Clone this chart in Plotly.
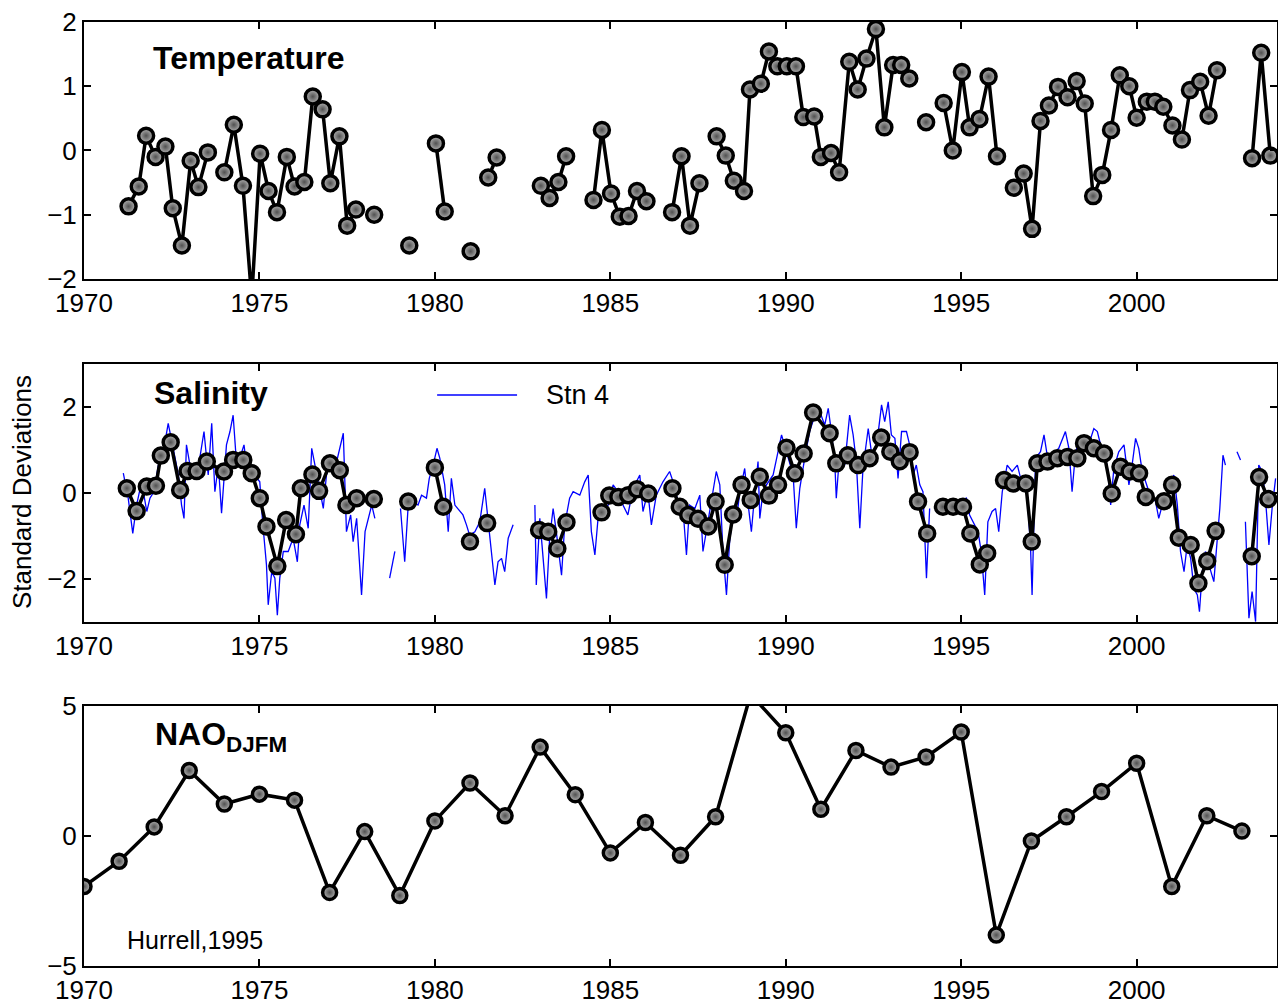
import plotly.graph_objects as go
from plotly.subplots import make_subplots

# Temperature anomalies (std devs), None marks gaps between segments
temp_year = [1971.27, 1971.56, 1971.77, 1972.04, 1972.32, 1972.53, 1972.79, 1973.04, 1973.26, 1973.53, None,
             1974.00, 1974.27, 1974.53, 1974.78, 1975.02, 1975.26, 1975.50, 1975.78, 1976.00, 1976.28,
             1976.52, 1976.80, 1977.02, 1977.28, 1977.50, 1977.75, None,
             1978.27, None, 1979.27, None, 1980.03, 1980.28, None, 1981.02, None, 1981.52, 1981.76, None,
             1983.02, 1983.27, 1983.52, 1983.74, None,
             1984.52, 1984.76, 1985.02, 1985.27, 1985.52, 1985.76, 1986.03, None,
             1986.76, 1987.03, 1987.27, 1987.54, None,
             1988.03, 1988.29, 1988.52, 1988.81, 1988.98, 1989.29, 1989.52, 1989.76, 1990.03, 1990.29,
             1990.50, 1990.81, 1991.00, 1991.29, 1991.52, 1991.81, 1992.05, 1992.30, 1992.57, 1992.81,
             1993.06, 1993.29, 1993.52, None, 1994.00, None,
             1994.50, 1994.76, 1995.02, 1995.24, 1995.52, 1995.78, 1996.02, None,
             1996.50, 1996.78, 1997.02, 1997.26, 1997.50, 1997.76, 1998.03, 1998.29, 1998.52, 1998.76,
             1999.02, 1999.27, 1999.52, 1999.79, 2000.00, 2000.29, 2000.52, 2000.76, 2001.02, 2001.29,
             2001.52, 2001.81, 2002.05, 2002.29, None,
             2003.29, 2003.55, 2003.81]
temp_val = [-0.87, -0.56, 0.23, -0.10, 0.06, -0.90, -1.48, -0.16, -0.57, -0.03, None,
            -0.34, 0.40, -0.55, -2.30, -0.05, -0.63, -0.96, -0.10, -0.56, -0.49,
            0.84, 0.64, -0.51, 0.22, -1.17, -0.92, None,
            -1.00, None, -1.48, None, 0.11, -0.95, None, -1.57, None, -0.42, -0.11, None,
            -0.55, -0.74, -0.49, -0.09, None,
            -0.77, 0.32, -0.67, -1.03, -1.02, -0.63, -0.79, None,
            -0.96, -0.09, -1.17, -0.51, None,
            0.22, -0.08, -0.47, -0.63, 0.95, 1.04, 1.54, 1.31, 1.31, 1.31,
            0.52, 0.53, -0.10, -0.04, -0.34, 1.38, 0.95, 1.43, 1.89, 0.36,
            1.33, 1.33, 1.12, None, 0.44, None,
            0.74, 0.00, 1.22, 0.36, 0.49, 1.15, -0.09, None,
            -0.58, -0.36, -1.22, 0.46, 0.70, 0.99, 0.83, 1.08, 0.73, -0.71,
            -0.38, 0.32, 1.17, 1.00, 0.51, 0.76, 0.76, 0.68, 0.39, 0.17,
            0.94, 1.07, 0.54, 1.25, None,
            -0.12, 1.52, -0.08]

# Salinity, averaged series (black markers)
sal_year = [1971.22, 1971.50, 1971.79, 1972.05, 1972.19, 1972.47, 1972.74, 1972.95, 1973.21, 1973.50,
            1973.99, 1974.25, 1974.54, 1974.78, 1975.01, 1975.20, 1975.51, 1975.76, 1976.04, 1976.18,
            1976.51, 1976.70, 1977.01, 1977.29, 1977.48, 1977.77, None, 1978.26, None, 1979.24, None,
            1980.00, 1980.24, None, 1981.00, None, 1981.49, None,
            1982.97, 1983.23, 1983.49, 1983.75, None,
            1984.75, 1984.97, 1985.23, 1985.51, 1985.76, 1986.08, None,
            1986.77, 1986.98, 1987.22, 1987.50, 1987.79, 1988.00, 1988.26, 1988.50, 1988.74, 1989.00,
            1989.26, 1989.52, 1989.78, 1990.02, 1990.26, 1990.51, 1990.78, 1991.25, 1991.44, 1991.77,
            1992.06, 1992.39, 1992.72, 1992.98, 1993.25, 1993.53, 1993.77, 1994.03, None,
            1994.48, 1994.77, 1995.05, 1995.26, 1995.53, 1995.74, None,
            1996.22, 1996.48, 1996.84, 1997.01, 1997.17, 1997.46, 1997.74, 1998.03, 1998.31, 1998.50,
            1998.78, 1999.07, 1999.29, 1999.54, 1999.80, 2000.07, 2000.26, 2000.78, 2001.01, 2001.20,
            2001.54, 2001.76, 2002.01, 2002.25, None,
            2003.28, 2003.49, 2003.75]
sal_val = [0.11, -0.42, 0.15, 0.17, 0.87, 1.18, 0.07, 0.51, 0.51, 0.73,
           0.50, 0.77, 0.77, 0.46, -0.12, -0.78, -1.70, -0.63, -0.96, 0.11,
           0.43, 0.05, 0.69, 0.53, -0.28, -0.12, None, -0.14, None, -0.20, None,
           0.59, -0.32, None, -1.13, None, -0.70, None,
           -0.86, -0.90, -1.29, -0.68, None,
           -0.45, -0.06, -0.09, -0.05, 0.09, -0.01, None,
           0.11, -0.32, -0.51, -0.60, -0.78, -0.20, -1.67, -0.50, 0.19, -0.16,
           0.38, -0.06, 0.19, 1.05, 0.46, 0.92, 1.87, 1.39, 0.69, 0.88,
           0.65, 0.81, 1.29, 0.96, 0.74, 0.95, -0.20, -0.94, None,
           -0.32, -0.32, -0.32, -0.94, -1.66, -1.40, None,
           0.30, 0.22, 0.22, -1.13, 0.69, 0.73, 0.81, 0.84, 0.81, 1.16,
           1.04, 0.92, -0.01, 0.61, 0.50, 0.46, -0.09, -0.19, 0.19, -1.04,
           -1.21, -2.10, -1.58, -0.88, None,
           -1.47, 0.37, -0.14]

# Salinity at Stn 4 (blue line)
stn4_year = [1971.12, 1971.26, 1971.39, 1971.50, 1971.64, 1971.79, 1971.88, 1971.99, 1972.12, 1972.26,
             1972.40, 1972.55, 1972.69, 1972.78, 1972.85, 1972.92, 1973.02, 1973.16, 1973.30, 1973.42,
             1973.54, 1973.64, 1973.73, 1973.83, 1973.92, 1974.06, 1974.16, 1974.25, 1974.35, 1974.44,
             1974.56, 1974.63, 1974.78, 1974.87, 1975.01, 1975.09, 1975.20, 1975.25, 1975.35, 1975.44,
             1975.51, 1975.58, 1975.68, 1975.82, 1975.96, 1976.08, 1976.15, 1976.27, 1976.39, 1976.49,
             1976.58, 1976.68, 1976.82, 1976.91, 1977.06, 1977.20, 1977.39, 1977.48, 1977.60, 1977.67,
             1977.77, 1977.91, 1978.01, 1978.20, 1978.29, None,
             1978.71, 1978.86, None,
             1979.02, 1979.14, 1979.24, 1979.38, 1979.52, 1979.62, 1979.76, 1979.84, 1979.95, 1980.06,
             1980.14, 1980.28, 1980.38, 1980.47, 1980.57, 1980.71, 1980.80, 1980.90, 1980.99, 1981.14,
             1981.28, 1981.42, 1981.52, 1981.61, 1981.71, 1981.80, 1981.90, 1981.99, 1982.09, 1982.23, None,
             1982.85, 1982.89, 1982.99, 1983.08, 1983.18, 1983.27, 1983.37, 1983.46, 1983.61, 1983.70,
             1983.84, 1983.94, 1984.13, 1984.27, 1984.37, 1984.46, 1984.56, 1984.65, 1984.79, 1984.94,
             1985.08, 1985.22, 1985.36, 1985.50, 1985.65, 1985.84, 1985.93, 1986.07, 1986.17, 1986.31,
             1986.50, 1986.69, 1986.79, 1986.93, 1987.07, 1987.17, 1987.26, 1987.41, 1987.55, 1987.64,
             1987.79, 1987.93, 1988.02, 1988.12, 1988.21, 1988.31, 1988.40, 1988.50, 1988.59, 1988.69,
             1988.83, 1988.93, 1989.02, 1989.12, 1989.21, 1989.26, 1989.35, 1989.45, 1989.64, 1989.78,
             1989.88, 1990.02, 1990.21, 1990.30, 1990.40, 1990.54, 1990.68, 1990.83, 1990.97, 1991.11,
             1991.21, 1991.30, 1991.40, 1991.44, 1991.54, 1991.68, 1991.82, 1991.92, 1992.01, 1992.11,
             1992.20, 1992.35, 1992.44, 1992.58, 1992.73, 1992.82, 1992.92, 1993.01, 1993.11, 1993.20,
             1993.30, 1993.44, 1993.53, 1993.63, 1993.72, 1993.82, 1993.91, 1994.01, 1994.10, None,
             1994.29, 1994.39, 1994.58, 1994.86, 1995.15, 1995.24, 1995.34, 1995.48, 1995.57, 1995.67,
             1995.76, 1995.88, 1995.98, 1996.07, 1996.17, 1996.31, 1996.45, 1996.60, 1996.74, 1996.88,
             1996.98, 1997.02, 1997.12, 1997.26, 1997.36, 1997.45, 1997.59, 1997.78, 1997.97, 1998.07,
             1998.16, 1998.26, 1998.40, 1998.54, 1998.69, 1998.78, 1998.88, 1999.02, 1999.16, 1999.26,
             1999.35, 1999.49, 1999.64, 1999.78, 1999.87, 1999.97, 2000.06, 2000.16, 2000.35, 2000.54,
             2000.63, 2000.73, 2000.92, 2001.06, 2001.16, 2001.25, 2001.35, 2001.44, 2001.54, 2001.63,
             2001.73, 2001.79, 2001.87, 2001.96, 2002.06, 2002.20, 2002.30, 2002.37, 2002.46, 2002.53, None,
             2002.86, 2002.96, None,
             2003.10, 2003.20, 2003.29, 2003.39, 2003.48, 2003.58, 2003.67, 2003.77, 2003.86, 2003.96]
stn4_val = [0.46, -0.12, -0.94, -0.28, 0.26, -0.43, -0.12, 0.03, 0.65, 0.96,
            1.62, 1.04, 0.42, -0.28, -0.59, 1.12, 0.65, 0.42, 0.81, 1.43,
            0.42, 1.62, 0.03, 0.65, -0.47, 1.12, 1.43, 1.81, 0.65, 0.81,
            1.12, 0.65, 0.50, 0.42, 0.26, -0.67, -1.67, -2.60, -1.83, -1.98,
            -2.84, -1.98, -1.36, -1.36, -1.05, -1.60, -0.74, -0.28, -0.82, 1.04,
            0.65, 0.19, -0.36, 0.42, 0.81, 0.73, 1.39, -0.90, -0.51, -1.13,
            -0.59, -2.37, -0.90, -0.28, -0.59, None,
            -1.98, -1.36, None,
            -0.36, -1.60, -0.28, -0.20, -0.28, -0.05, -0.12, 0.34, 0.65, 1.04,
            0.81, 0.19, -0.90, 0.34, -0.28, -0.43, -0.51, -0.74, -0.98, -0.90,
            -0.67, 0.11, -0.59, -1.36, -2.14, -1.60, -1.52, -1.83, -1.05, -0.74, None,
            -0.28, -2.14, -0.59, -1.52, -2.45, -1.05, -0.36, -0.90, -1.91, -0.74,
            -0.12, 0.03, -0.05, 0.26, 0.42, -0.90, -1.44, -0.59, -0.36, -0.28,
            0.19, 0.03, -0.28, -0.51, 0.11, 0.42, -0.43, 0.03, -0.74, -0.05,
            0.26, 0.50, 0.26, -0.20, -0.36, -1.44, -0.28, -0.36, -0.05, -1.36,
            -0.59, 0.03, 0.50, 0.19, -1.36, -2.37, -1.13, -0.43, -0.67, 0.03,
            0.57, -0.28, -0.90, 0.03, 0.73, -0.59, 0.03, 0.19, 0.42, 0.96,
            1.35, 0.96, 0.42, -0.82, 0.11, 0.81, 1.43, 1.81, 1.89, 1.58,
            1.97, 1.43, 0.65, -0.12, 0.96, 0.65, 1.81, 1.35, 0.73, -0.82,
            0.57, 1.50, 0.96, 1.04, 2.05, 1.66, 2.12, 1.35, 1.27, 0.34,
            1.43, 1.43, 1.12, 0.42, 0.65, 0.19, 0.03, -1.98, -0.36, None,
            -0.43, -0.28, -0.28, -0.20, -0.12, -0.51, -0.67, -0.90, -1.36, -2.37,
            -0.67, -0.43, -0.36, -0.90, 0.03, 0.65, 0.50, 0.65, 0.19, 0.03,
            -1.36, -2.37, 0.81, 0.96, 1.35, 0.88, 0.88, 1.04, 1.43, 1.04,
            0.03, 0.96, 1.27, 1.04, 1.27, 1.50, 1.43, 0.96, 0.65, -0.28,
            0.57, 0.96, 1.12, 0.19, 0.65, 1.27, 1.04, 0.50, 0.03, -0.20,
            -0.59, -0.28, 0.03, 0.42, -0.28, -1.36, -1.83, -1.21, -1.52, -2.22,
            -2.37, -2.76, -1.83, -1.36, -1.67, -2.06, -1.05, -0.36, 0.88, 0.65, None,
            0.96, 0.77, None,
            -0.67, -2.91, -2.29, -2.99, 0.65, 0.50, -0.12, -1.21, -0.36, 0.34]

# NAO winter (DJFM) index, Hurrell
nao_year = list(range(1970, 2004))
nao_val = [-1.94, -0.97, 0.35, 2.52, 1.23, 1.61, 1.38, -2.17, 0.17, -2.29,
           0.58, 2.04, 0.78, 3.42, 1.59, -0.65, 0.52, -0.74, 0.74, 5.45,
           3.97, 1.03, 3.29, 2.65, 3.04, 4.00, -3.81, -0.19, 0.74, 1.71,
           2.80, -1.94, 0.78, 0.19]

FONT = "Liberation Sans, Arial, Helvetica, sans-serif"

fig = make_subplots(rows=3, cols=1, vertical_spacing=0.09)

marker = dict(size=15, color="#b8b8b8", line=dict(color="black", width=3.5),
              gradient=dict(type="radial", color="#505050"))

fig.add_trace(go.Scatter(x=temp_year, y=temp_val, mode="lines+markers",
                         line=dict(color="black", width=3.5), marker=marker,
                         connectgaps=False, showlegend=False), row=1, col=1)

fig.add_trace(go.Scatter(x=stn4_year, y=stn4_val, mode="lines", name="Stn 4",
                         line=dict(color="#0000ff", width=1.3),
                         connectgaps=False, showlegend=False), row=2, col=1)
fig.add_trace(go.Scatter(x=sal_year, y=sal_val, mode="lines+markers",
                         line=dict(color="black", width=3.5), marker=marker,
                         connectgaps=False, showlegend=False), row=2, col=1)

fig.add_trace(go.Scatter(x=nao_year, y=nao_val, mode="lines+markers",
                         line=dict(color="black", width=3.5),
                         marker=dict(marker, size=14),
                         showlegend=False), row=3, col=1)

# panel domains, matching the reference layout
doms = [(0.7278, 1.0), (0.3644, 0.6377), (0.0, 0.2754)]
yranges = [(-2, 2), (-3, 3), (-5, 5)]
yticks = [[-2, -1, 0, 1, 2], [-2, 0, 2], [-5, 0, 5]]
tickfont = dict(family=FONT, size=26, color="black")

for i in range(3):
    fig.update_xaxes(row=i + 1, col=1, range=[1970, 2004], tickvals=[1970, 1975, 1980, 1985, 1990, 1995, 2000],
                     ticks="inside", ticklen=7, tickwidth=1.5, tickcolor="black",
                     showline=True, linecolor="black", linewidth=2, mirror="ticks",
                     showgrid=False, zeroline=False, automargin=False, tickfont=tickfont,
                     ticklabeloverflow="allow")
    fig.update_yaxes(row=i + 1, col=1, range=list(yranges[i]), tickvals=yticks[i], domain=list(doms[i]),
                     ticks="inside", ticklen=7, tickwidth=1.5, tickcolor="black",
                     showline=True, linecolor="black", linewidth=2, mirror="ticks",
                     showgrid=False, zeroline=False, automargin=False, tickfont=tickfont,
                     ticklabeloverflow="allow")

ann = dict(showarrow=False, font=dict(family=FONT, size=32, color="black"), xanchor="left")
fig.add_annotation(ann, text="<b>Temperature</b>", xref="x domain", yref="y domain", x=0.056, y=0.86, yanchor="middle")
fig.add_annotation(ann, text="<b>Salinity</b>", xref="x2 domain", yref="y2 domain", x=0.057, y=0.888, yanchor="middle")
fig.add_annotation(ann, text="<b>NAO<sub>DJFM</sub></b>", xref="x3 domain", yref="y3 domain", x=0.058, y=0.97, yanchor="top")
fig.add_annotation(showarrow=False, text="Hurrell,1995", xref="x3 domain", yref="y3 domain", x=0.034, y=0.1,
                   xanchor="left", yanchor="middle", font=dict(family=FONT, size=25, color="black"))

# legend entry for the Stn 4 line
fig.add_shape(type="line", xref="x2 domain", yref="y2 domain", x0=0.296, x1=0.363, y0=0.88, y1=0.88,
              line=dict(color="#0000ff", width=1.5))
fig.add_annotation(showarrow=False, text="Stn 4", xref="x2 domain", yref="y2 domain", x=0.386, y=0.88,
                   xanchor="left", yanchor="middle", font=dict(family=FONT, size=27, color="black"))

fig.add_annotation(showarrow=False, text="Standard Deviations", xref="paper", yref="paper", x=-0.052, y=0.502,
                   xanchor="center", yanchor="middle", textangle=-90,
                   font=dict(family=FONT, size=26, color="black"))

# the page body adds an 8px offset, so the figure is drawn 8px smaller
fig.update_layout(width=1278, height=1000, margin=dict(l=76, r=9, t=14, b=42),
                  plot_bgcolor="white", paper_bgcolor="white")

fig.write_html("out.html")
